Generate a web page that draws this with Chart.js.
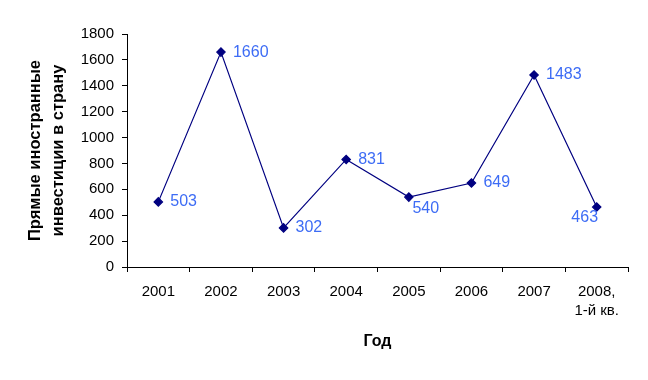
<!DOCTYPE html>
<html>
<head>
<meta charset="utf-8">
<script src="https://cdn.jsdelivr.net/npm/chart.js@4/dist/chart.umd.min.js"></script>
<style>
  html, body { margin: 0; padding: 0; background: #ffffff; }
  #wrap { width: 648px; height: 380px; }
</style>
</head>
<body>
<div id="wrap"><canvas id="c" width="648" height="380"></canvas></div>
<script>
// ---- data ----
const categories = ['2001', '2002', '2003', '2004', '2005', '2006', '2007', ['2008,', '1-й кв.']];
const investments = [503, 1660, 302, 831, 540, 649, 1483, 463];
const yTicks = [0, 200, 400, 600, 800, 1000, 1200, 1400, 1600, 1800];
const yTitle = ['Прямые иностранные', 'инвестиции в страну'];
const xTitle = 'Год';
// label placement keywords per point
const labelPlacement = ['right', 'right', 'right', 'right', 'below', 'right', 'right', 'belowLeft'];

const FONT = "'Liberation Sans', Arial, sans-serif";

const valueLabels = {
  id: 'valueLabels',
  afterDatasetsDraw(chart) {
    const ctx = chart.ctx;
    const meta = chart.getDatasetMeta(0);
    ctx.save();
    ctx.font = '16px ' + FONT;
    ctx.fillStyle = '#3d6cf5';
    ctx.textBaseline = 'middle';
    meta.data.forEach((pt, i) => {
      const v = chart.data.datasets[0].data[i];
      const p = labelPlacement[i];
      let x = pt.x, y = pt.y;
      if (p === 'right') { ctx.textAlign = 'left'; x += 12; }
      else if (p === 'below') { ctx.textAlign = 'center'; x += 17; y += 11; }
      else { ctx.textAlign = 'center'; x -= 12; y += 11; }
      ctx.fillText(String(v), x, y);
    });
    ctx.restore();
  }
};

new Chart(document.getElementById('c'), {
  type: 'line',
  data: {
    labels: categories,
    datasets: [{
      data: investments,
      borderColor: '#000080',
      backgroundColor: '#000080',
      borderWidth: 1.2,
      pointStyle: 'rectRot',
      pointRadius: 4.2,
      pointBackgroundColor: '#000080',
      pointBorderColor: '#000080',
      tension: 0,
      fill: false
    }]
  },
  options: {
    responsive: false,
    animation: false,
    devicePixelRatio: 1,
    layout: { padding: { left: 0, right: 20, top: 34, bottom: 0 } },
    plugins: { legend: { display: false }, tooltip: { enabled: false } },
    scales: {
      x: {
        type: 'category',
        offset: true,
        grid: { offset: true, drawOnChartArea: false, drawTicks: true, tickLength: 5, color: '#000000' },
        border: { color: '#000000', width: 1 },
        ticks: { color: '#000000', font: { family: FONT, size: 15, lineHeight: '19px' }, padding: 10, maxRotation: 0, autoSkip: false },
        title: { display: true, text: xTitle, color: '#000000', font: { family: FONT, size: 16, weight: 'bold', lineHeight: '18px' }, padding: { top: 0, bottom: 29 } },
        afterFit(s) { s.height = 113; }
      },
      y: {
        min: 0,
        max: 1800,
        afterBuildTicks(s) { s.ticks = yTicks.map(v => ({ value: v })); },
        grid: { drawOnChartArea: false, drawTicks: true, tickLength: 5, color: '#000000' },
        border: { color: '#000000', width: 1 },
        ticks: { color: '#000000', font: { family: FONT, size: 15 }, padding: 8, callback: v => String(v) },
        title: { display: true, text: yTitle, color: '#000000', font: { family: FONT, size: 16.5, weight: 'bold', lineHeight: '23px' }, padding: { top: 24, bottom: 0 } },
        afterFit(s) { s.width = 127; }
      }
    }
  },
  plugins: [valueLabels]
});
</script>
</body>
</html>
